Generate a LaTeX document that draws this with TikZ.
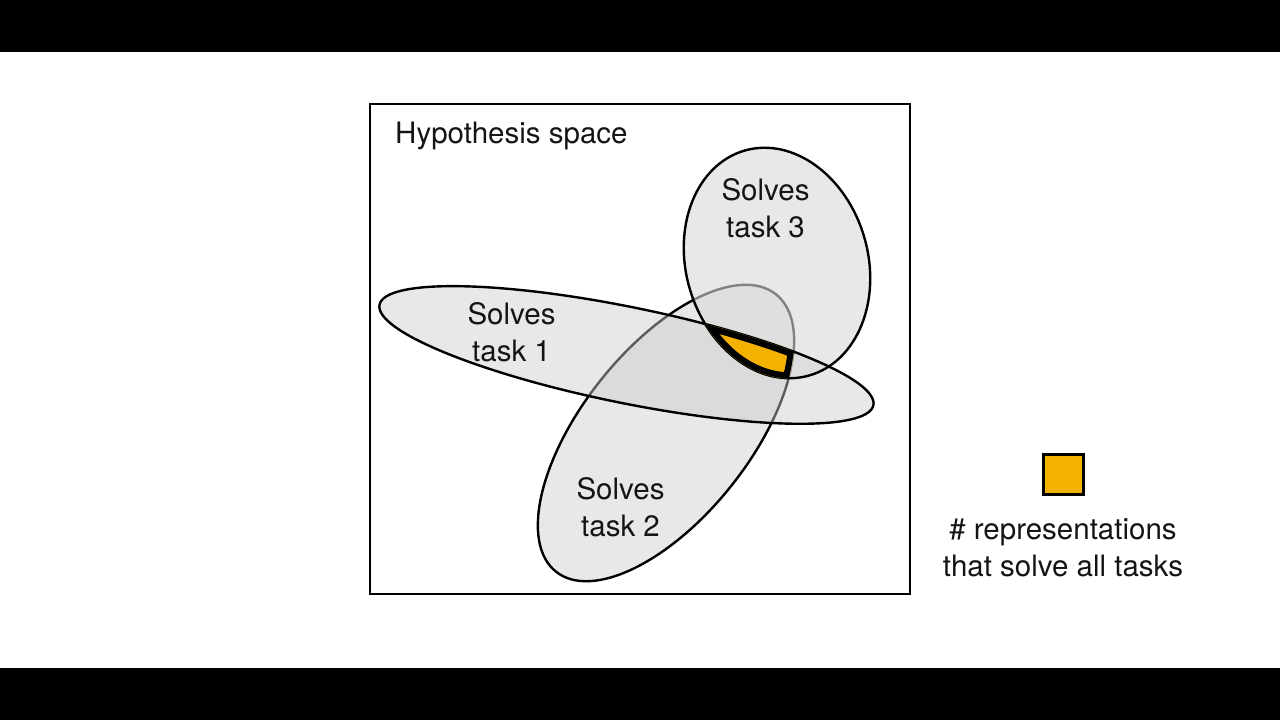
\documentclass[tikz,border=0pt]{standalone}
\usepackage{fontspec}
\setmainfont{TeX Gyre Heros}
\usetikzlibrary{positioning}
\definecolor{solveall}{RGB}{243,178,0}
\definecolor{inkgray}{RGB}{20,20,20}
\definecolor{setgray}{RGB}{232,232,232}
\definecolor{onegray}{RGB}{204,204,204}
\definecolor{threegray}{RGB}{217,217,217}
\newcommand{\slidefont}{\fontsize{29.5}{37}\selectfont}
\newcommand{\ellone}{(c1) ellipse [x radius=252, y radius=48]}
\newcommand{\elltwo}{(c2) ellipse [x radius=177, y radius=84]}
\newcommand{\ellthree}{(c3) ellipse [x radius=91, y radius=117]}
\tikzset{
	setline/.style={draw=black, line width=2.4pt},
	tasklabel/.style={font=\slidefont, text=inkgray, align=center, inner sep=0pt},
	rotone/.style={rotate around={-11.5:(c1)}},
	rottwo/.style={rotate around={51.6:(c2)}},
	rotthree/.style={rotate around={16:(c3)}},
}

\begin{document}
\begin{tikzpicture}[x=1pt, y=-1pt]
    \useasboundingbox (0,0) rectangle (1280,720);
    \fill[black] (0,0) rectangle (1280,52);
    \fill[black] (0,668) rectangle (1280,720);

    \node[draw=black, line width=2pt, minimum width=540pt, minimum height=490pt, inner sep=0pt] (hspace) at (640,349) {};
    \node[tasklabel, anchor=base west] (htitle) at (395,143) {Hypothesis space};

    \coordinate (c1) at (626.5,355);
    \coordinate (c2) at (666,433);
    \coordinate (c3) at (777,263);

    % task 2 sits underneath the other two
    \fill[setgray, rottwo] \elltwo;
    \draw[setline, rottwo] \elltwo;
    \fill[onegray, fill opacity=0.45, rotone] \ellone;
    \fill[threegray, fill opacity=0.6, rotthree] \ellthree;
    \draw[setline, rotone] \ellone;
    \draw[setline, rotthree] \ellthree;

    % region inside all three sets
    \begin{scope}
        \clip[rotone] \ellone;
        \clip[rottwo] \elltwo;
        \clip[rotthree] \ellthree;
        \fill[solveall] (600,250) rectangle (900,450);
        \draw[black, line width=12pt, rotone] \ellone;
        \draw[black, line width=12pt, rottwo] \elltwo;
        \draw[black, line width=12pt, rotthree] \ellthree;
    \end{scope}

    \node[tasklabel] (tone) at (511.5,332) {Solves\\task 1};
    \node[tasklabel] (ttwo) at (620.5,507) {Solves\\task 2};
    \node[tasklabel] (tthree) at (765.5,208) {Solves\\task 3};

    \node[draw=black, line width=3pt, fill=solveall, minimum size=40pt, inner sep=0pt] (key) at (1063,474) {};
    \node[tasklabel, below=23pt of key] (keytext) {\# representations\\that solve all tasks};
\end{tikzpicture}
\end{document}
